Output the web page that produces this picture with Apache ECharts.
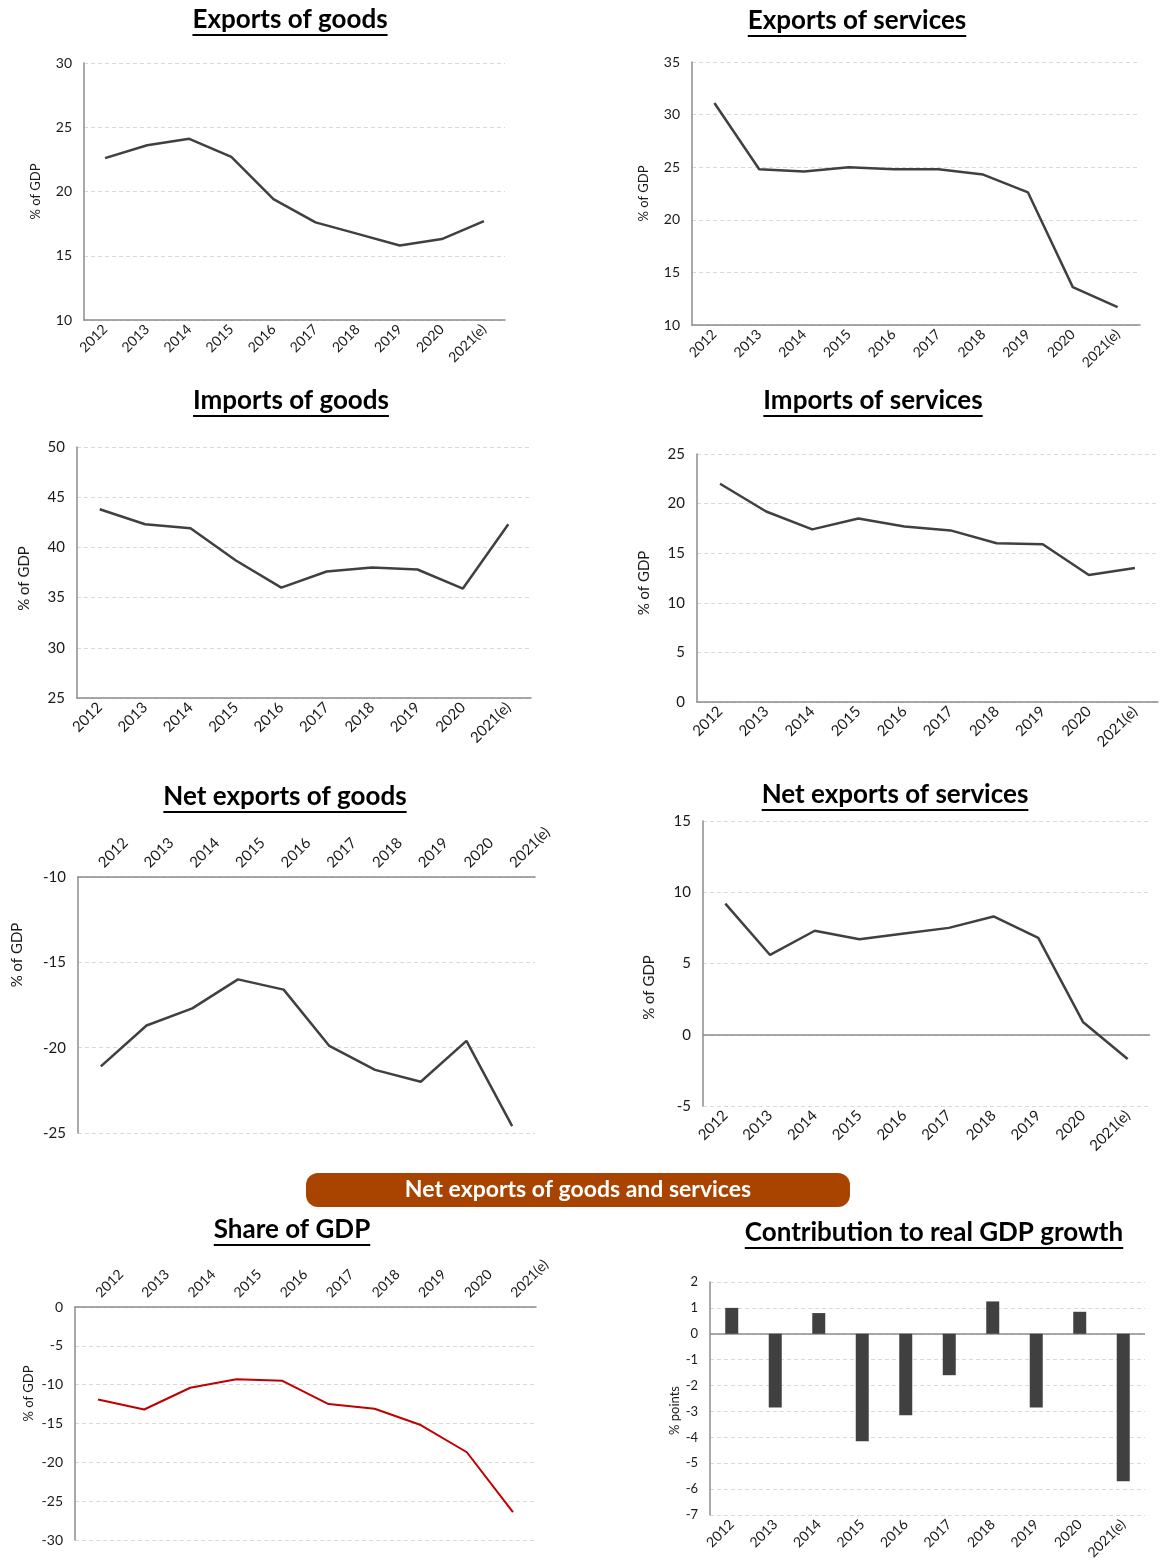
<!DOCTYPE html>
<html>
<head>
<meta charset="utf-8">
<script src="https://cdn.jsdelivr.net/npm/echarts@6/dist/echarts.min.js"></script>
<style>
  html, body { margin: 0; padding: 0; background: #ffffff; }
  #chart { width: 1161px; height: 1567px; }
</style>
</head>
<body>
<div id="chart"></div>
<script>
// Years shown on every panel
const years = ['2012', '2013', '2014', '2015', '2016', '2017', '2018', '2019', '2020', '2021(e)'];

// Trade flows, % of GDP
const exportsGoods    = [22.6, 23.6, 24.1, 22.7, 19.4, 17.6, 16.7, 15.8, 16.3, 17.7];
const exportsServices = [31.1, 24.8, 24.6, 25.0, 24.8, 24.8, 24.3, 22.6, 13.6, 11.7];
const importsGoods    = [43.8, 42.3, 41.9, 38.7, 36.0, 37.6, 38.0, 37.8, 35.9, 42.3];
const importsServices = [22.0, 19.2, 17.4, 18.5, 17.7, 17.3, 16.0, 15.9, 12.8, 13.5];
const netGoods        = [-21.1, -18.7, -17.7, -16.0, -16.6, -19.9, -21.3, -22.0, -19.6, -24.6];
const netServices     = [9.2, 5.6, 7.3, 6.7, 7.1, 7.5, 8.3, 6.8, 0.9, -1.7];
const netShareOfGdp   = [-11.9, -13.2, -10.4, -9.3, -9.5, -12.5, -13.1, -15.2, -18.7, -26.4];

// Net exports contribution to real GDP growth, % points
const contribution    = [1.0, -2.85, 0.8, -4.15, -3.15, -1.6, 1.25, -2.85, 0.85, -5.7];

// Panel titles
const titles = [
  'Exports of goods', 'Exports of services',
  'Imports of goods', 'Imports of services',
  'Net exports of goods', 'Net exports of services',
  'Share of GDP', 'Contribution to real GDP growth'
];
const bannerText = 'Net exports of goods and services';

const FONT = 'Lato, "Liberation Sans", Arial, sans-serif';
const TEXT = '#1a1a1a';
const AXIS = '#8c8c8c';
const GRID = '#d9d9d9';

// Layout and styling of each panel (nameShift moves the axis name up, in px)
const panels = [
  { values: exportsGoods, cx: 290, cy: 20, uy: 35,
    grid: { left: 84, top: 63, width: 421, height: 257 }, min: 10, max: 30, interval: 5,
    yName: '% of GDP', nameGap: 42, nameSize: 13, nameShift: 0, tickSize: 14, catSize: 14, catPos: 'bottom' },
  { values: exportsServices, cx: 857, cy: 21, uy: 36,
    grid: { left: 692, top: 62, width: 448, height: 263 }, min: 10, max: 35, interval: 5,
    yName: '% of GDP', nameGap: 42, nameSize: 13, nameShift: 0, tickSize: 14, catSize: 14, catPos: 'bottom' },
  { values: importsGoods, cx: 291, cy: 401, uy: 416,
    grid: { left: 77, top: 447, width: 454, height: 251 }, min: 25, max: 50, interval: 5,
    yName: '% of GDP', nameGap: 45, nameSize: 15, nameShift: -6, tickSize: 15, catSize: 15, catPos: 'bottom' },
  { values: importsServices, cx: 873, cy: 401, uy: 416,
    grid: { left: 697, top: 454, width: 461, height: 248 }, min: 0, max: 25, interval: 5,
    yName: '% of GDP', nameGap: 45, nameSize: 15, nameShift: -5, tickSize: 15, catSize: 15, catPos: 'bottom' },
  { values: netGoods, cx: 285, cy: 797, uy: 812,
    grid: { left: 78, top: 877, width: 457, height: 256 }, min: -25, max: -10, interval: 5,
    yName: '% of GDP', nameGap: 53, nameSize: 15, nameShift: 50, tickSize: 15, catSize: 15, catPos: 'top' },
  { values: netServices, cx: 895, cy: 795, uy: 810,
    grid: { left: 703, top: 821, width: 447, height: 285 }, min: -5, max: 15, interval: 5,
    yName: '% of GDP', nameGap: 46, nameSize: 15, nameShift: -24, tickSize: 15, catSize: 15, catPos: 'bottom',
    zeroLine: true },
  { values: netShareOfGdp, cx: 292, cy: 1230, uy: 1245,
    grid: { left: 75, top: 1307, width: 461, height: 233 }, min: -30, max: 0, interval: 5,
    yName: '% of GDP', nameGap: 40, nameSize: 13, nameShift: 30, tickSize: 14, catSize: 14, catPos: 'top',
    color: '#c00000', lineWidth: 2 },
  { values: contribution, cx: 934, cy: 1233, uy: 1248,
    grid: { left: 710, top: 1282, width: 435, height: 233 }, min: -7, max: 2, interval: 1,
    yName: '% points', nameGap: 29, nameSize: 13, nameShift: -12, tickSize: 13, catSize: 14, catPos: 'bottom',
    zeroLine: true, bar: true }
];

const TITLE_FONT = 'bold 26px ' + FONT;
const measureCtx = document.createElement('canvas').getContext('2d');
function textWidth(str, font) {
  measureCtx.font = font;
  return measureCtx.measureText(str).width;
}

// Asymmetric padding slides a centred, rotated axis name along its axis
function namePadding(shift) {
  const d = Math.abs(shift) * 2;
  return shift >= 0 ? [0, 0, 0, d] : [0, d, 0, 0];
}

const grids = [], xAxes = [], yAxes = [], series = [], graphics = [];

panels.forEach((p, i) => {
  grids.push(Object.assign({}, p.grid));

  const boxedAxis = !p.zeroLine;
  const onTop = p.catPos === 'top';
  xAxes.push({
    type: 'category',
    gridIndex: i,
    data: years,
    position: p.catPos,
    boundaryGap: true,
    axisLine: { show: boxedAxis, onZero: false, lineStyle: { color: AXIS, width: 1.5 } },
    axisTick: { show: false },
    axisLabel: {
      rotate: onTop ? -45 : 45, interval: 0, margin: onTop ? 12 : 7,
      fontFamily: FONT, fontSize: p.catSize, color: TEXT
    },
    splitLine: { show: false }
  });

  yAxes.push({
    type: 'value',
    gridIndex: i,
    min: p.min, max: p.max, interval: p.interval,
    name: p.yName,
    nameLocation: 'middle',
    nameGap: p.nameGap,
    nameTextStyle: {
      fontFamily: FONT, fontSize: p.nameSize, color: TEXT,
      padding: namePadding(p.nameShift)
    },
    axisLine: { show: true, lineStyle: { color: AXIS, width: 1.5 } },
    axisTick: { show: false },
    axisLabel: { margin: 12, fontFamily: FONT, fontSize: p.tickSize, color: TEXT },
    splitLine: { show: true, lineStyle: { color: GRID, type: [4, 3], width: 1 } }
  });

  const s = {
    type: p.bar ? 'bar' : 'line',
    xAxisIndex: i,
    yAxisIndex: i,
    data: p.values,
    silent: true,
    z: 3
  };
  if (p.bar) {
    s.barWidth = 13;
    s.itemStyle = { color: '#404040' };
  } else {
    s.symbol = 'none';
    s.smooth = false;
    s.lineStyle = { color: p.color || '#404040', width: p.lineWidth || 2.5 };
  }
  if (p.zeroLine) {
    s.markLine = {
      silent: true,
      symbol: 'none',
      label: { show: false },
      lineStyle: { color: AXIS, type: 'solid', width: 1.5 },
      data: [{ yAxis: 0 }],
      z: 1
    };
  }
  series.push(s);

  // Underlined panel title
  const w = textWidth(titles[i], TITLE_FONT);
  graphics.push({
    type: 'text', x: p.cx, y: p.cy, z: 10,
    style: { text: titles[i], font: TITLE_FONT, fill: '#000000', align: 'center', verticalAlign: 'middle' }
  });
  graphics.push({
    type: 'line', z: 10,
    shape: { x1: p.cx - w / 2, y1: p.uy, x2: p.cx + w / 2, y2: p.uy },
    style: { stroke: '#000000', lineWidth: 2 }
  });
});

// Banner across the last two panels
graphics.push({
  type: 'rect', z: 10,
  shape: { x: 306, y: 1173, width: 544, height: 34, r: 12 },
  style: { fill: '#a94400' }
});
graphics.push({
  type: 'text', x: 578, y: 1190, z: 11,
  style: { text: bannerText, font: 'bold 23px ' + FONT, fill: '#ffffff', align: 'center', verticalAlign: 'middle' }
});

const chart = echarts.init(document.getElementById('chart'), null, { renderer: 'canvas' });
chart.setOption({
  backgroundColor: '#ffffff',
  animation: false,
  grid: grids,
  xAxis: xAxes,
  yAxis: yAxes,
  series: series,
  graphic: graphics
});
</script>
</body>
</html>
